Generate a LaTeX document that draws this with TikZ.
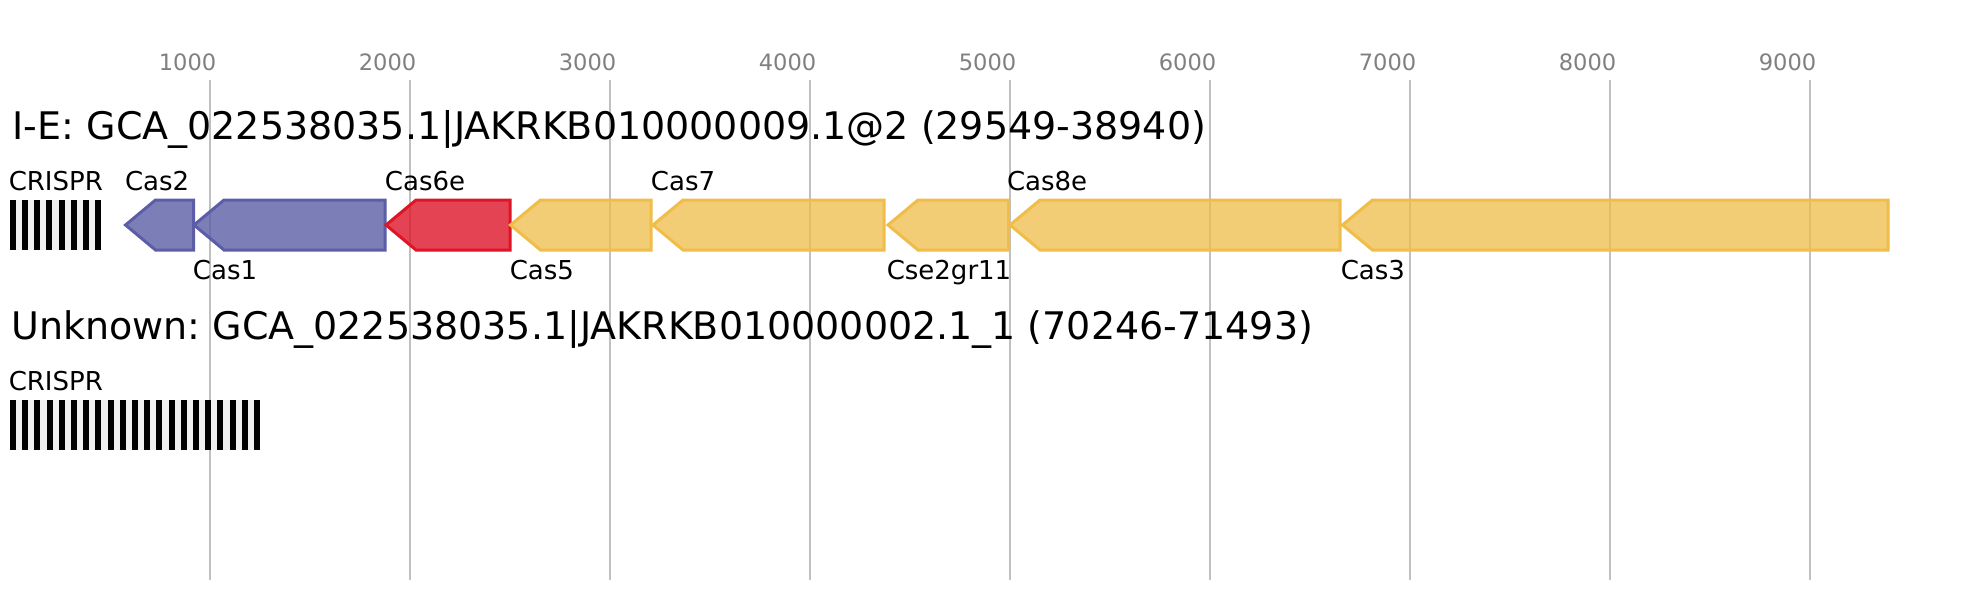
\documentclass[tikz,border=0pt]{standalone}
\usepackage{fontspec}
\setmainfont{DejaVu Sans}
\frenchspacing
\definecolor{gridc}{RGB}{192,192,192}
\definecolor{tickc}{RGB}{128,128,128}
\definecolor{blueS}{RGB}{91,94,166}
\definecolor{redS}{RGB}{221,21,39}
\definecolor{yelS}{RGB}{239,189,72}
\definecolor{crbg}{RGB}{240,240,240}
\tikzset{
  x=0.75pt, y=-0.75pt,
  gridline/.style={draw=gridc, line width=1.5pt},
  ticklab/.style={font=\fontsize{16.9}{18}\selectfont, text=tickc, inner sep=0pt, anchor=base east},
  tracktitle/.style={font=\fontsize{28.5}{31}\selectfont, inner sep=0pt, anchor=base west},
  glab/.style={font=\fontsize{19.5}{22}\selectfont, inner sep=0pt, anchor=base west},
  genebase/.style={line width=2.25pt, line join=miter},
  bluegene/.style={genebase, draw=blueS, fill=blueS, fill opacity=0.8},
  redgene/.style={genebase, draw=redS, fill=redS, fill opacity=0.8},
  yelgene/.style={genebase, draw=yelS, fill=yelS, fill opacity=0.75},
  repeatbar/.style={fill=black},
  arraybg/.style={fill=crbg}
}
% #1 style, #2 tip x, #3 right x, #4 top y
\newcommand{\genearrow}[4]{%
  \path[#1] (#2,#4+25) -- (#2+30,#4) -- (#3,#4) -- (#3,#4+50) -- (#2+30,#4+50) -- cycle;}
\begin{document}
\begin{tikzpicture}
\useasboundingbox (0,0) rectangle (1978,600);
\fill[white] (0,0) rectangle (1978,600);
% grid and ticks
\foreach \k in {1,...,9} {
  \draw[gridline] (10+200*\k,80) -- (10+200*\k,580);
  \node[ticklab] (tick\k) at (16.5+200*\k,70) {\k000};
}
% track 1
\node[tracktitle] (title1) at (12.5,139.5) {I-E: GCA\_022538035.1|JAKRKB010000009.1@2 (29549-38940)};
\fill[arraybg] (10,200) rectangle (101,250);
\foreach \i in {0,...,7} { \fill[repeatbar] (10+12.14*\i,200) rectangle +(6,50); }
\node[glab] (crispr1) at (8.5,190) {CRISPR};
\genearrow{bluegene}{125.5}{193.5}{200}
\genearrow{bluegene}{194}{385}{200}
\genearrow{redgene}{386}{510}{200}
\genearrow{yelgene}{510.5}{651}{200}
\genearrow{yelgene}{653}{884}{200}
\genearrow{yelgene}{888}{1008.5}{200}
\genearrow{yelgene}{1010}{1340}{200}
\genearrow{yelgene}{1342.5}{1888}{200}
\node[glab] (cas2) at (124.8,190) {Cas2};
\node[glab] (cas1) at (192.7,279) {Cas1};
\node[glab] (cas6e) at (384.7,190) {Cas6e};
\node[glab] (cas5) at (509.5,279) {Cas5};
\node[glab] (cas7) at (650.7,190) {Cas7};
\node[glab] (cse2) at (886.5,279) {Cse2gr11};
\node[glab] (cas8e) at (1006.8,190) {Cas8e};
\node[glab] (cas3) at (1340.5,279) {Cas3};
% track 2
\node[tracktitle] (title2) at (11,339.5) {Unknown: GCA\_022538035.1|JAKRKB010000002.1\_1 (70246-71493)};
\node[glab] (crispr2) at (8.5,390) {CRISPR};
\fill[arraybg] (10,400) rectangle (260,450);
\foreach \i in {0,...,20} { \fill[repeatbar] (10+12.2*\i,400) rectangle +(6,50); }
\end{tikzpicture}
\end{document}
